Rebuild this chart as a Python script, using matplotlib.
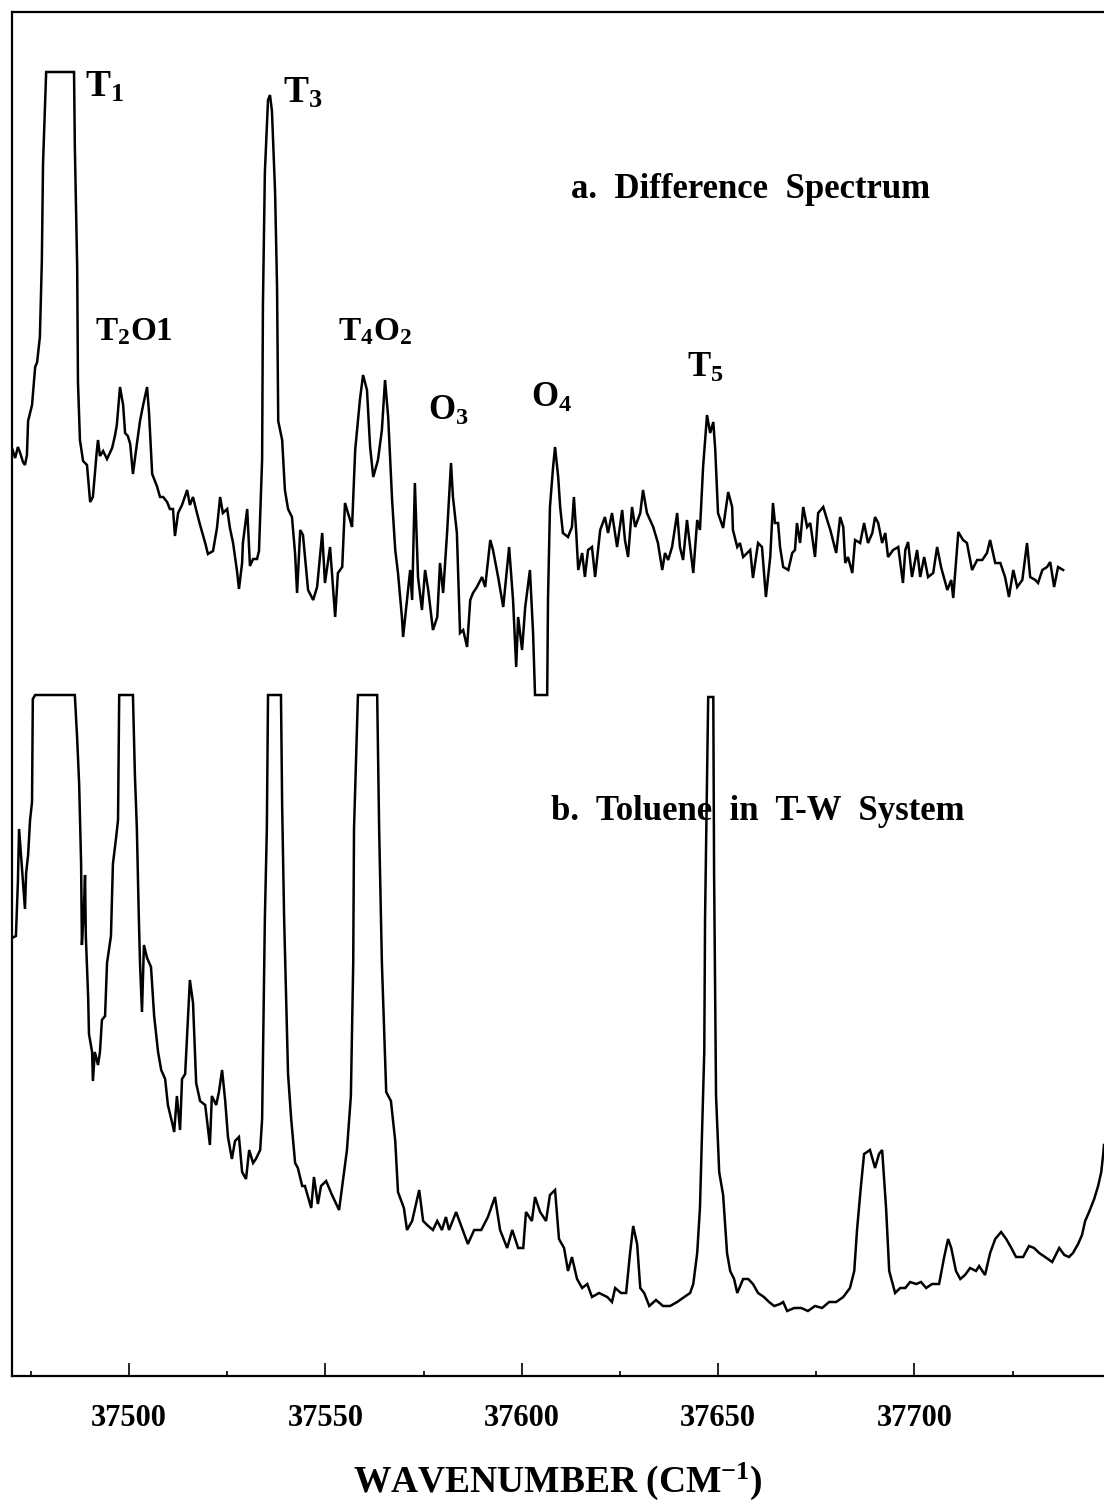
import matplotlib
matplotlib.use("Agg")
import matplotlib.pyplot as plt
from matplotlib.ticker import FixedLocator

plt.rcParams['font.family'] = ['Liberation Serif', 'DejaVu Serif']
plt.rcParams['font.weight'] = 'bold'
plt.rcParams['mathtext.fontset'] = 'custom'
plt.rcParams['mathtext.rm'] = 'Liberation Serif:bold'
plt.rcParams['mathtext.bf'] = 'Liberation Serif:bold'
plt.rcParams['mathtext.it'] = 'Liberation Serif:bold'

# ---------------- data (wavenumber in cm-1, intensity in arbitrary units) -------------
# a. Difference spectrum
wn_a = [
    37470.2, 37471.0, 37471.7, 37472.2, 37473.0, 37473.5, 37474.0, 37474.3, 37475.3, 37476.1,
    37476.6, 37477.3, 37477.8, 37478.1, 37478.9, 37486.0, 37486.2, 37486.8, 37487.0, 37487.5,
    37488.3, 37489.3, 37490.1, 37490.8, 37491.8, 37492.1, 37492.6, 37493.4, 37494.4, 37495.7,
    37496.4, 37496.9, 37497.7, 37498.5, 37499.0, 37499.7, 37500.3, 37501.0, 37502.0, 37502.8,
    37503.6, 37504.6, 37505.1, 37505.9, 37507.1, 37507.9, 37508.7, 37509.7, 37510.4, 37511.2,
    37511.7, 37512.5, 37513.5, 37514.8, 37515.5, 37516.3, 37517.3, 37518.1, 37519.4, 37520.1,
    37521.4, 37522.4, 37523.2, 37523.9, 37525.0, 37525.7, 37526.5, 37527.5, 37528.0, 37528.8,
    37529.0, 37530.1, 37530.8, 37531.6, 37532.6, 37533.1, 37533.9, 37534.1, 37534.6, 37535.4,
    37535.9, 37536.4, 37537.2, 37537.7, 37538.0, 37539.0, 37539.7, 37540.5, 37541.5, 37542.3,
    37542.8,
    37543.6, 37544.3, 37545.6, 37546.9, 37547.9, 37549.2, 37549.9, 37551.2, 37552.5, 37553.2,
    37554.3, 37555.0, 37556.3, 37556.8, 37557.6, 37558.8, 37559.6, 37560.6, 37561.4, 37562.2,
    37563.4, 37564.4, 37565.2, 37566.0, 37567.0, 37567.8, 37568.5, 37569.5, 37569.8, 37570.8,
    37571.6, 37572.1, 37572.8, 37573.6, 37574.6, 37575.4, 37576.2, 37577.4, 37578.5, 37579.2,
    37580.0, 37581.0, 37582.0, 37582.5, 37583.5, 37584.3, 37585.1, 37586.1, 37586.9, 37587.6,
    37588.6, 37589.9, 37590.7, 37592.0, 37592.7, 37594.0, 37595.3, 37596.3, 37596.8, 37597.8,
    37598.6, 37599.1, 37600.1, 37600.9, 37602.1, 37602.9, 37603.4, 37606.5, 37606.7, 37607.2,
    37608.0, 37608.5, 37609.3, 37609.8, 37610.5, 37611.8, 37612.8, 37613.3, 37613.9, 37614.4,
    37615.4, 37616.1, 37616.9, 37617.9, 37618.7, 37620.0, 37621.2, 37622.0, 37623.0, 37624.3,
    37625.6, 37626.3, 37627.1, 37628.1, 37628.9, 37630.2, 37630.9, 37631.9, 37633.5, 37634.7,
    37635.8, 37636.5, 37637.3, 37638.3, 37639.6, 37640.3, 37641.1, 37642.1, 37642.9, 37643.7,
    37644.7, 37645.4, 37646.2, 37647.2, 37648.0, 37648.8, 37649.3, 37650.0, 37651.3, 37652.6,
    37653.6, 37653.8, 37654.9, 37655.6, 37656.4, 37658.2, 37658.9, 37660.2, 37661.2, 37662.2,
    37663.3, 37664.0, 37664.5, 37665.3, 37665.8, 37666.6, 37667.9, 37668.9, 37669.6, 37670.1,
    37670.9, 37671.7, 37672.7, 37673.5, 37674.7, 37675.5, 37676.8, 37677.8, 37678.6, 37680.1,
    37681.1, 37681.9, 37682.4, 37683.1, 37684.2, 37684.9, 37686.2, 37687.2, 37688.2, 37689.3,
    37690.0, 37690.8, 37691.8, 37692.6, 37693.3, 37694.6, 37695.9, 37697.1, 37697.7, 37698.4,
    37699.4, 37700.7, 37701.5, 37702.5, 37703.5, 37704.8, 37705.8, 37706.8, 37708.4, 37709.4,
    37709.9, 37711.2, 37712.4, 37713.4, 37714.7, 37716.0, 37717.3, 37718.5, 37719.3, 37720.6,
    37721.9, 37723.1, 37724.1, 37725.2, 37726.2, 37727.5, 37728.7, 37729.5, 37730.8, 37731.5,
    37732.6, 37733.8, 37734.6, 37735.6, 37736.6, 37737.9]
int_a = [
    92.8, 91.8, 92.9, 92.4, 91.4, 91.1, 92.1, 95.5, 97.1, 100.9,
    101.4, 103.9, 111.5, 121.2, 130.4, 130.4, 123.0, 110.8, 99.4, 93.6,
    91.5, 91.1, 87.4, 87.9, 92.5, 93.6, 92.0, 92.5, 91.7, 92.8,
    94.0, 95.1, 98.9, 97.1, 94.3, 94.0, 93.2, 90.2, 93.2, 95.5,
    97.1, 98.9, 96.3, 90.2, 89.0, 87.9, 87.9, 87.4, 86.7, 86.7,
    84.0, 86.3, 87.1, 88.6, 87.1, 87.9, 86.3, 85.1, 83.3, 82.2,
    82.5, 84.8, 87.9, 86.3, 86.7, 84.8, 83.3, 80.5, 78.7, 81.3,
    83.3, 86.7, 81.0, 81.7, 81.7, 82.5, 91.7, 107.0, 120.4, 127.6,
    128.1, 126.5, 118.4, 108.9, 95.5, 93.6, 88.6, 86.7, 85.9, 82.2,
    78.3,
    84.6, 84.1, 78.6, 77.6, 78.9, 84.3, 79.3, 82.9, 75.9, 80.3,
    80.9, 87.3, 85.6, 84.9, 92.6, 97.6, 100.1, 98.6, 92.9, 89.9,
    91.6, 94.6, 99.6, 95.9, 87.6, 82.6, 80.3, 75.9, 73.9, 77.6,
    80.6, 77.6, 89.3, 79.9, 76.6, 80.6, 78.6, 74.6, 75.9, 81.3,
    78.3, 84.3, 91.3, 87.9, 84.3, 74.3, 74.6, 72.9, 77.6, 78.3,
    78.9, 79.9, 78.9, 83.6, 82.6, 79.9, 76.9, 80.9, 82.9, 77.6,
    70.9, 75.9, 72.6, 76.9, 80.6, 74.3, 68.1, 68.1, 77.6, 86.9,
    90.9, 92.9, 89.9, 86.9, 84.3, 83.9, 84.9, 87.9, 84.3, 80.6,
    82.3, 79.9, 82.6, 82.9, 79.9, 84.6, 85.9, 84.3, 86.3, 82.9,
    86.6, 83.6, 81.9, 86.9, 84.9, 86.3, 88.6, 86.3, 84.9, 83.3,
    80.6, 82.3, 81.6, 82.9, 86.3, 82.9, 81.6, 85.6, 82.9, 80.3,
    85.6, 84.6, 90.9, 96.1, 94.3, 95.4, 92.6, 86.3, 84.8, 88.4,
    86.9, 84.6, 82.9, 83.3, 81.9, 82.6, 79.8, 83.3, 82.9, 77.9,
    81.9, 87.3, 85.3, 85.3, 82.9, 80.9, 80.6, 82.3, 82.6, 85.3,
    83.3, 86.9, 84.9, 85.3, 81.9, 86.3, 86.9, 85.6, 84.6, 82.3,
    85.9, 84.9, 81.3, 81.9, 80.3, 83.6, 83.3, 85.3, 83.3, 84.3,
    85.9, 85.3, 83.3, 84.3, 81.9, 82.6, 82.9, 79.3, 82.6, 83.4,
    79.9, 82.6, 79.9, 81.9, 79.9, 80.3, 82.9, 80.9, 78.6, 79.6,
    77.8, 84.4, 83.6, 83.3, 80.6, 81.6, 81.6, 82.3, 83.6, 81.3,
    81.3, 79.9, 77.9, 80.6, 78.9, 79.6, 83.3, 79.9, 79.6, 79.3,
    80.6, 80.9, 81.4, 78.9, 80.9, 80.6]

# b. Toluene in T-W system
wn_b = [
    37470.2, 37471.2, 37471.7, 37472.0, 37472.5, 37473.0, 37473.5, 37473.8, 37474.3, 37474.8,
    37475.3, 37475.5, 37476.1, 37486.2, 37486.8, 37487.3, 37487.8, 37488.0, 37488.5, 37488.8,
    37489.0, 37489.6, 37489.8, 37490.6, 37490.8, 37491.3, 37492.1, 37492.6, 37493.1, 37493.9,
    37494.4, 37495.4, 37495.9, 37496.7, 37497.2, 37497.5, 37501.0, 37501.5, 37502.0, 37502.5,
    37502.8, 37503.3, 37503.8, 37504.6, 37505.6, 37506.4, 37507.4, 37508.2, 37509.2, 37509.9,
    37511.0, 37511.5, 37512.2, 37513.0, 37513.5, 37514.3, 37515.0, 37515.5, 37516.3, 37517.1,
    37518.1, 37519.4, 37520.6, 37521.1, 37522.2, 37522.9, 37523.7, 37524.5, 37525.2, 37526.2,
    37527.0, 37528.0, 37528.8, 37529.8, 37530.6, 37531.6, 37532.3, 37533.4, 37533.9, 37534.6,
    37535.1, 37535.4, 37538.7, 37539.0, 37539.5, 37540.5, 37541.3, 37542.3, 37543.0, 37544.1,
    37544.8, 37546.4, 37547.1, 37548.1, 37548.9, 37550.2, 37551.7, 37553.5, 37554.3, 37555.5,
    37556.5, 37557.1, 37557.3, 37558.3, 37563.2, 37563.7, 37564.4, 37565.5, 37566.7, 37567.8,
    37568.5, 37570.0, 37570.8, 37572.1, 37573.9, 37574.9, 37576.2, 37577.4, 37578.5, 37579.7,
    37580.7, 37581.5, 37583.3, 37584.6, 37586.3, 37587.9, 37589.7, 37591.4, 37593.2, 37594.5,
    37596.3, 37597.6, 37599.1, 37600.4, 37601.1, 37602.6, 37603.4, 37604.7, 37606.2, 37607.2,
    37608.5, 37609.5, 37610.8, 37611.8, 37612.8, 37614.1, 37615.4, 37616.7, 37617.9, 37619.7,
    37621.8, 37623.0, 37623.8, 37625.3, 37626.6, 37627.6, 37628.4, 37629.4, 37630.2, 37631.2,
    37632.5, 37634.2, 37636.0, 37637.8, 37639.6, 37641.4, 37642.9, 37643.7, 37644.7, 37645.4,
    37646.5, 37646.7, 37647.2, 37647.5, 37648.8, 37649.0, 37649.5, 37650.3, 37651.3, 37652.3,
    37653.1, 37654.1, 37654.9, 37656.4, 37657.7, 37658.9, 37660.2, 37661.7, 37663.0, 37664.3,
    37665.8, 37666.6, 37667.6, 37669.4, 37671.2, 37672.9, 37674.7, 37676.5, 37678.3, 37680.1,
    37681.9, 37683.6, 37684.7, 37685.4, 37686.4, 37687.2, 37688.7, 37690.0, 37691.0, 37691.8,
    37692.8, 37693.6, 37695.1, 37696.4, 37697.7, 37698.9, 37700.5, 37701.7, 37703.0, 37704.5,
    37706.3, 37707.6, 37708.6, 37709.4, 37710.6, 37711.7, 37712.9, 37714.2, 37715.7, 37716.5,
    37718.0, 37719.3, 37720.6, 37722.1, 37723.4, 37724.7, 37725.9, 37727.7, 37729.2, 37730.5,
    37731.8, 37733.3, 37735.1, 37736.9, 37738.2, 37739.4, 37740.4, 37741.7, 37742.7, 37743.5,
    37744.5, 37745.8, 37746.8, 37747.6, 37748.1, 37748.3]
int_b = [
    43.8, 44.0, 49.4, 54.7, 52.1, 49.4, 46.7, 50.3, 52.1, 55.6,
    57.4, 67.7, 68.1, 68.1, 63.7, 59.2, 51.2, 43.1, 46.7, 50.1,
    44.0, 37.8, 34.2, 32.4, 29.5, 32.4, 31.1, 32.4, 35.6, 36.0,
    41.3, 44.0, 51.2, 53.8, 55.6, 68.1, 68.1, 60.1, 54.7, 45.8,
    41.3, 36.4, 43.1, 41.8, 40.9, 36.0, 32.4, 30.6, 29.7, 27.1,
    25.3, 24.4, 28.0, 24.6, 29.7, 30.2, 35.6, 39.6, 37.3, 29.3,
    27.5, 27.1, 23.1, 28.0, 27.1, 28.4, 30.6, 27.5, 23.9, 21.7,
    23.5, 23.9, 20.4, 19.7, 22.6, 21.3, 21.7, 22.6, 25.7, 45.8,
    54.7, 68.1, 68.1, 57.0, 45.8, 30.2, 25.7, 21.3, 20.8, 19.0,
    19.0, 16.8, 19.9, 17.2, 19.0, 19.5, 18.1, 16.6, 19.0, 22.6,
    28.0, 41.3, 54.7, 68.1, 68.1, 54.7, 41.3, 28.4, 27.5, 23.5,
    18.4, 16.8, 14.6, 15.5, 18.6, 15.5, 15.0, 14.6, 15.5, 14.6,
    15.9, 14.6, 16.4, 15.0, 13.2, 14.6, 14.6, 15.9, 17.9, 14.6,
    12.8, 14.6, 12.8, 12.8, 16.4, 15.5, 17.9, 16.4, 15.5, 18.1,
    18.6, 13.7, 12.8, 10.5, 11.9, 9.7, 8.8, 9.2, 7.9, 8.3,
    7.9, 7.4, 8.8, 8.3, 8.3, 12.3, 15.0, 13.2, 8.8, 8.3,
    7.0, 7.6, 7.0, 7.0, 7.4, 7.9, 8.3, 9.2, 12.3, 16.8,
    32.4, 45.8, 59.2, 67.9, 67.9, 50.3, 28.0, 20.4, 18.1, 12.3,
    10.5, 9.7, 8.3, 9.7, 9.7, 9.2, 8.3, 7.9, 7.4, 7.0,
    7.2, 7.4, 6.5, 6.8, 6.8, 6.5, 7.0, 6.8, 7.4, 7.4,
    7.9, 8.8, 10.5, 14.6, 19.0, 22.2, 22.6, 20.8, 22.2, 22.6,
    16.8, 10.5, 8.3, 8.8, 8.8, 9.4, 9.2, 9.4, 8.8, 9.2,
    9.2, 11.9, 13.7, 12.8, 10.5, 9.7, 10.1, 10.8, 10.5, 11.0,
    10.1, 12.3, 13.7, 14.4, 13.7, 12.8, 11.9, 11.9, 13.0, 12.8,
    12.3, 11.9, 11.4, 12.8, 12.1, 11.9, 12.3, 13.2, 14.1, 15.5,
    16.4, 17.7, 19.0, 20.4, 22.2, 23.1]

tick_values = [37500, 37550, 37600, 37650, 37700]
tick_labels = ['37500', '37550', '37600', '37650', '37700']
minor_ticks = [37475, 37525, 37575, 37625, 37675, 37725]

# peak labels: (text, wavenumber, intensity of baseline, fontsize)
peak_labels = [
    (r'T$_1$', 37488.8, 127.9, 27),
    (r'T$_3$', 37539.2, 127.3, 27),
    (r'T$_2$O1', 37491.3, 103.6, 24),
    (r'T$_4$O$_2$', 37553.2, 103.6, 24),
    (r'O$_3$', 37576.2, 95.6, 25),
    (r'O$_4$', 37602.4, 96.9, 25),
    (r'T$_5$', 37642.1, 99.9, 25),
]
panel_titles = [
    ('a.  Difference  Spectrum', 37658.3, 117.8),
    ('b.  Toluene  in  T-W  System', 37660.0, 55.6),
]

# ---------------- figure ----------------
fig = plt.figure(figsize=(11.04, 15.09), dpi=100)
ax = fig.add_axes([12 / 1104, 133 / 1509, 1092 / 1104, 1364 / 1509])

ax.plot(wn_a, int_a, color='black', lw=1.8, solid_joinstyle='miter')
ax.plot(wn_b, int_b, color='black', lw=1.8, solid_joinstyle='miter')

ax.set_xlim(37470.2, 37748.3)
ax.set_ylim(0, 136.4)

for side in ('left', 'top', 'bottom'):
    ax.spines[side].set_linewidth(1.6)
ax.spines['right'].set_visible(False)

ax.xaxis.set_major_locator(FixedLocator(tick_values))
ax.xaxis.set_minor_locator(FixedLocator(minor_ticks))
ax.set_xticklabels(tick_labels, fontsize=22, fontweight='bold')
ax.tick_params(axis='x', which='major', direction='in', length=9.5, width=1.2,
               pad=20, top=False)
ax.tick_params(axis='x', which='minor', direction='in', length=3.5, width=1.2, top=False)
ax.set_yticks([])

ax.set_xlabel(r'WAVENUMBER (CM$^{\mathbf{-1}}$)', fontsize=27, fontweight='bold',
              labelpad=20)

for txt, x, y, fs in peak_labels:
    ax.text(x, y, txt, fontsize=fs, fontweight='bold', ha='left', va='baseline')

for txt, x, y in panel_titles:
    ax.text(x, y, txt, fontsize=25, fontweight='bold', ha='center', va='baseline')

fig.savefig('out.png', dpi=100, facecolor='white')
